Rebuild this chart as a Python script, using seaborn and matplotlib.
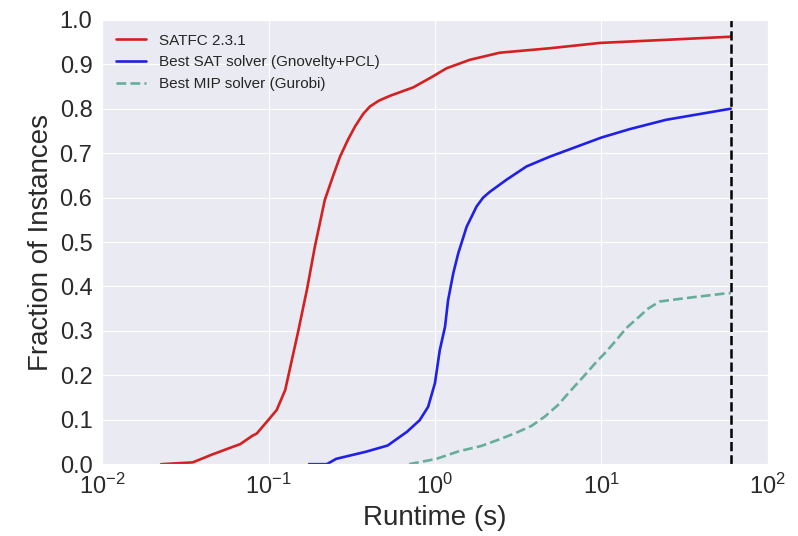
import numpy as np
import pandas as pd
import matplotlib
matplotlib.use("Agg")
import matplotlib.pyplot as plt
import seaborn as sns

sns.set_style("darkgrid")
plt.rcParams['font.family'] = ['Liberation Sans', 'DejaVu Sans']

#%% data (runtime in s, fraction solved)
x_satfc = [0.0226, 0.035, 0.046, 0.063, 0.0675, 0.080, 0.085, 0.1, 0.112, 0.126,
           0.138, 0.151, 0.162, 0.170, 0.190, 0.218, 0.245, 0.269, 0.300, 0.331,
           0.370, 0.407, 0.460, 0.537, 0.741, 0.955, 1.175, 1.62, 2.45, 4.9, 9.8,
           24.5, 60]
y_satfc = [0.0, 0.004, 0.022, 0.041, 0.045, 0.064, 0.069, 0.100, 0.122, 0.167,
           0.234, 0.300, 0.355, 0.392, 0.490, 0.595, 0.650, 0.692, 0.730, 0.760,
           0.788, 0.805, 0.818, 0.829, 0.848, 0.871, 0.891, 0.910, 0.926, 0.936, 0.948,
           0.955, 0.962]

x_sat = [0.175, 0.224, 0.255, 0.385, 0.52, 0.68, 0.81, 0.91, 1.0, 1.07, 1.15, 1.20,
         1.29, 1.38, 1.55, 1.78, 1.95, 2.14, 2.69, 3.55, 4.9, 10.0, 14.8, 24.5, 60]
y_sat = [0.0, 0.0, 0.012, 0.028, 0.042, 0.073, 0.099, 0.129, 0.182, 0.257, 0.309, 0.369,
         0.430, 0.474, 0.534, 0.580, 0.600, 0.613, 0.640, 0.670, 0.692, 0.735, 0.754,
         0.775, 0.800]

x_mip = [0.70, 1.02, 1.39, 1.90, 2.45, 3.09, 3.80, 4.57, 5.49, 6.6, 7.94, 9.33,
         10.7, 12.3, 14.1, 16.9, 19.1, 22.4, 31, 55, 60]
y_mip = [0.0, 0.012, 0.029, 0.041, 0.056, 0.071, 0.086, 0.107, 0.133, 0.167, 0.200, 0.230,
         0.253, 0.279, 0.306, 0.332, 0.350, 0.366, 0.373, 0.384, 0.385]

labels = ["SATFC 2.3.1", "Best SAT solver (Gnovelty+PCL)", "Best MIP solver (Gurobi)"]
cutoff = 60
#%%

fig = plt.figure(figsize=(7.98, 5.36), dpi=100)
ax = fig.add_axes([0.128, 0.134, 0.834, 0.829])

sns.lineplot(x=x_satfc, y=y_satfc, ax=ax, color="#d42020", lw=1.9, label=labels[0],
             estimator=None, sort=False)
sns.lineplot(x=x_sat, y=y_sat, ax=ax, color="#2020e8", lw=1.9, label=labels[1],
             estimator=None, sort=False)
sns.lineplot(x=x_mip, y=y_mip, ax=ax, color="#66ae98", lw=1.9, ls="--", label=labels[2],
             estimator=None, sort=False)
ax.axvline(cutoff, color="black", ls="--", lw=1.8)

ax.set_xscale("log")
ax.set_xlim(1e-2, 1e2)
ax.set_ylim(0, 1)
ax.set_yticks(np.arange(0, 1.01, 0.1))
ax.set_yticklabels(["%.1f" % v for v in np.arange(0, 1.01, 0.1)])
ax.minorticks_off()
ax.tick_params(labelsize=17, colors="#2a2a2a")
ax.set_xlabel("Runtime (s)", fontsize=20, color="#2a2a2a")
ax.set_ylabel("Fraction of Instances", fontsize=20, color="#2a2a2a")
ax.legend(loc="upper left", fontsize=11, frameon=False)

fig.savefig("out.png", dpi=100)
